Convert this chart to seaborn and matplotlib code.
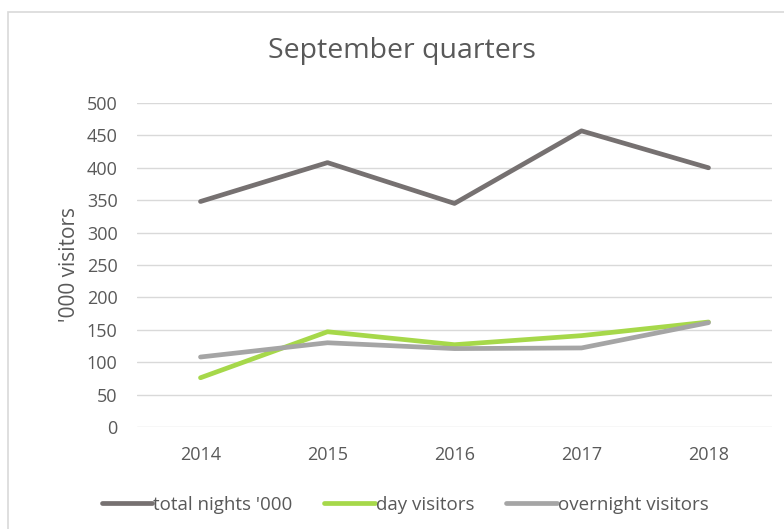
import matplotlib
matplotlib.use("Agg")
import matplotlib.pyplot as plt
import matplotlib.patches as mpatches
import seaborn as sns
import pandas as pd

years = [2014, 2015, 2016, 2017, 2018]
total_nights = [348, 408, 345, 457, 400]
day_visitors = [76, 147, 127, 141, 162]
overnight_visitors = [108, 130, 121, 122, 161]
series_names = ["total nights '000", "day visitors", "overnight visitors"]
colors = ["#767171", "#A6D84A", "#A5A5A5"]

df = pd.DataFrame({
    "year": years * 3,
    "value": total_nights + day_visitors + overnight_visitors,
    "series": [series_names[0]] * 5 + [series_names[1]] * 5 + [series_names[2]] * 5,
})

sns.set_theme(style="white")
plt.rcParams["font.family"] = ["Open Sans", "DejaVu Sans"]
txt = "#595959"

fig = plt.figure(figsize=(7.84, 5.29), dpi=100)
# outer chart frame
fig.patches.append(mpatches.Rectangle((8 / 784, -0.05), 1.0, 1 - 12 / 529 + 0.05,
                                      transform=fig.transFigure, fill=False,
                                      edgecolor="#D9D9D9", lw=1.2))
ax = fig.add_axes([137 / 784, 1 - 427 / 529, 635 / 784, 324 / 529])

sns.lineplot(data=df, x="year", y="value", hue="series", hue_order=series_names,
             palette=colors, linewidth=3.4, ax=ax, legend=False)

ax.set_xlim(2013.5, 2018.5)
ax.set_ylim(0, 500)
ax.set_yticks(range(0, 501, 50))
ax.set_xticks(years)
ax.set_xticklabels([str(y) for y in years])
ax.grid(axis="y", color="#D9D9D9", lw=1)
ax.grid(axis="x", visible=False)
for s in ax.spines.values():
    s.set_visible(False)
ax.tick_params(axis="both", length=0, labelsize=13, colors=txt)
ax.tick_params(axis="x", pad=14)
ax.tick_params(axis="y", pad=14)
ax.set_xlabel("")
ax.set_ylabel("'000 visitors", fontsize=15, color=txt, labelpad=5)
fig.text(402 / 784, 1 - 58 / 529, "September quarters", ha="center", va="baseline",
         fontsize=20.5, color=txt)

handles = [plt.Line2D([], [], color=c, lw=3.4) for c in colors]
fig.legend(handles, series_names, loc="center", bbox_to_anchor=(405 / 784, 1 - 505 / 529),
           ncol=3, frameon=False, fontsize=13.5, labelcolor=txt, handlelength=2.7,
           handletextpad=0.05, columnspacing=1.7, borderpad=0)

fig.savefig("out.png", dpi=100)
